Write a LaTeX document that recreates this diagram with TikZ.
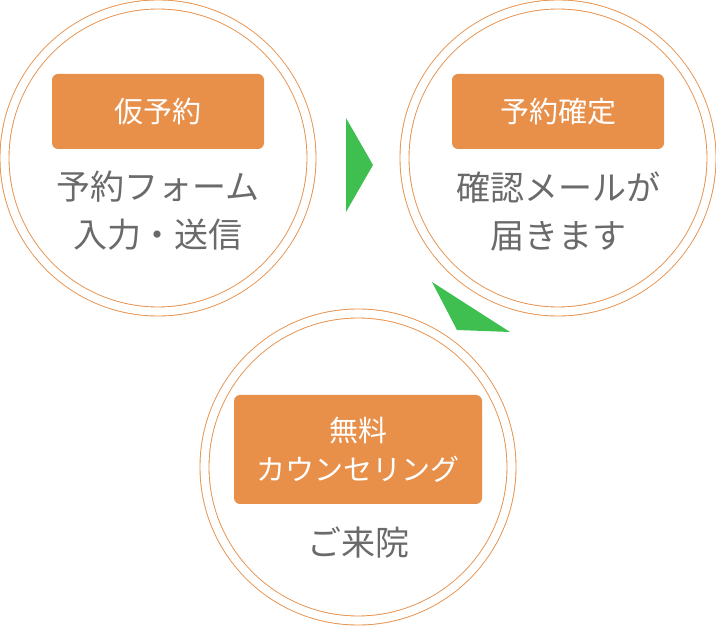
\documentclass[tikz,border=0pt]{standalone}
\usepackage{fontspec}
\newfontfamily\jpfont{Noto Sans CJK JP}
\usetikzlibrary{positioning}
\definecolor{stepor}{HTML}{E8904A}
\definecolor{arrowgr}{HTML}{3FBF4F}
\definecolor{txtgray}{HTML}{6A6A6A}

\begin{document}
\begin{tikzpicture}[x=1pt, y=-1pt,
  ring/.style={circle, draw=stepor, line width=0.9pt, double=white, double distance=8.1pt, minimum size=307pt, inner sep=0pt},
  label/.style={fill=stepor, rounded corners=6pt, text=white, minimum width=212pt, minimum height=75pt, align=center, inner sep=0pt, font=\jpfont\fontsize{29}{39}\selectfont},
  desc/.style={text=txtgray, align=center, inner sep=0pt, font=\jpfont\fontsize{34}{48}\selectfont},
  turn/.style={fill=arrowgr}
]
  \useasboundingbox (0,0) rectangle (716,628);

  % Step circles
  \node[ring] (c1) at (158,158) {};
  \node[ring] (c2) at (558,158) {};
  \node[ring] (c3) at (358,467) {};

  % Step labels
  \node[label] (l1) at (158,111.5) {仮予約};
  \node[label] (l2) at (558,111.5) {予約確定};
  \node[label, minimum width=248pt, minimum height=109pt] (l3) at (358,449.5) {無料\\カウンセリング};

  % Descriptions
  \node[desc] (d1) at (158,211) {予約フォーム\\入力・送信};
  \node[desc] (d2) at (558,211) {確認メールが\\届きます};
  \node[desc] (d3) at (358,543) {ご来院};

  % Turn arrows
  \fill[turn] (346,118) -- (373,165) -- (346,212) -- cycle;
  \fill[turn] (432,282) -- (510,332) -- (457,330) -- cycle;
\end{tikzpicture}
\end{document}
